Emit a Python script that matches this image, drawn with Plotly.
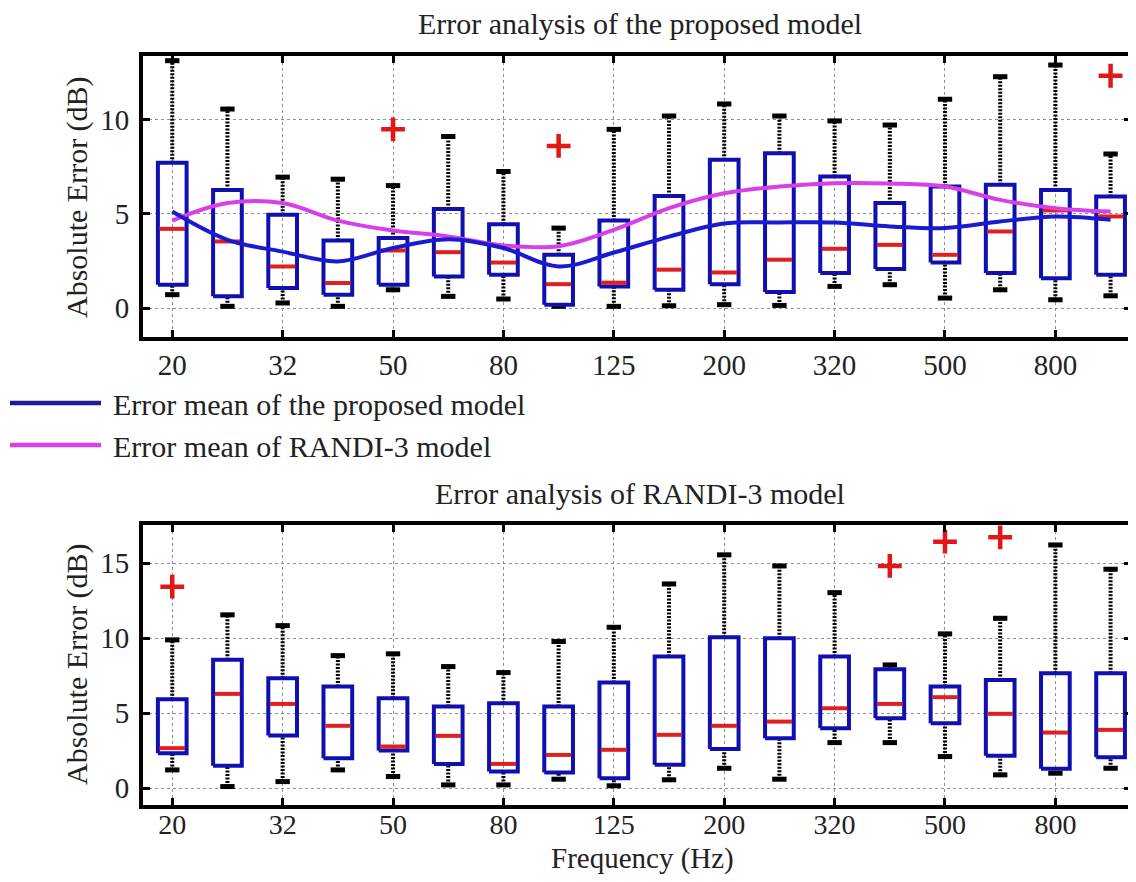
import plotly.graph_objects as go

# ---------------- data ----------------
freq_labels = ["20", "25", "32", "40", "50", "63", "80", "100", "125", "160",
               "200", "250", "320", "400", "500", "630", "800", "1000"]
tick_labels = ["20", "32", "50", "80", "125", "200", "320", "500", "800"]

# Proposed model error statistics (dB)
prop_lower = [0.71, 0.09, 0.27, 0.09, 0.97, 0.62, 0.48, 0.09, 0.09, 0.12, 0.18, 0.14, 1.15, 1.24, 0.53, 0.97, 0.44, 0.65]
prop_q1 = [1.24, 0.62, 1.06, 0.71, 1.24, 1.68, 1.77, 0.18, 1.15, 0.97, 1.27, 0.85, 1.86, 2.07, 2.42, 1.86, 1.59, 1.77]
prop_median = [4.21, 3.54, 2.21, 1.33, 3.06, 2.97, 2.42, 1.27, 1.35, 2.04, 1.89, 2.57, 3.15, 3.36, 2.83, 4.07, 5.19, 4.87]
prop_q3 = [7.73, 6.28, 4.96, 3.59, 3.72, 5.26, 4.46, 2.83, 4.66, 5.96, 7.88, 8.23, 6.99, 5.58, 6.46, 6.55, 6.28, 5.93]
prop_upper = [13.15, 10.58, 6.96, 6.85, 6.51, 9.12, 7.26, 4.25, 9.5, 10.21, 10.85, 10.21, 9.95, 9.73, 11.1, 12.3, 12.92, 8.19]
prop_outlier_freq = ["50", "100", "1000"]
prop_outlier_val = [9.5, 8.62, 12.35]

# Error means
prop_mean = [5.13, 3.63, 3.0, 2.48, 3.19, 3.66, 3.19, 2.21, 2.95, 3.8, 4.5, 4.55, 4.55, 4.34, 4.25, 4.6, 4.87, 4.69]
randi_mean = [4.65, 5.58, 5.58, 4.65, 4.12, 3.81, 3.33, 3.29, 4.16, 5.31, 6.1, 6.46, 6.64, 6.62, 6.46, 5.75, 5.31, 5.13]

# RANDI-3 model error statistics (dB)
randi_lower = [1.22, 0.11, 0.44, 1.22, 0.78, 0.22, 0.22, 0.6, 0.16, 0.56, 1.33, 0.6, 3.04, 3.04, 2.11, 0.89, 1.0, 1.33]
randi_q1 = [2.33, 1.49, 3.51, 2.0, 2.51, 1.62, 1.11, 1.04, 0.67, 1.56, 2.62, 3.33, 4.0, 4.67, 4.33, 2.16, 1.3, 2.07]
randi_median = [2.67, 6.29, 5.62, 4.16, 2.78, 3.49, 1.62, 2.22, 2.56, 3.56, 4.16, 4.44, 5.33, 5.62, 6.07, 4.96, 3.71, 3.89]
randi_q3 = [5.93, 8.56, 7.33, 6.78, 6.0, 5.44, 5.67, 5.44, 7.04, 8.78, 10.07, 10.0, 8.78, 7.93, 6.78, 7.22, 7.67, 7.67]
randi_upper = [9.89, 11.56, 10.84, 8.84, 8.96, 8.11, 7.71, 9.78, 10.73, 13.62, 15.56, 14.82, 13.04, 8.22, 10.29, 11.33, 16.22, 14.6]
randi_outlier_freq = ["20", "400", "500", "630"]
randi_outlier_val = [13.44, 14.82, 16.44, 16.73]

# ---------------- styling ----------------
FONT = "Liberation Serif, Times New Roman, serif"
BOX_C = "#1010b0"
MED_C = "#e02020"
OUT_C = "#e01818"
BLUE_LINE = "#1a1ad0"
MAG_LINE = "#d83fe8"
HALF_W = 0.26
CAP_W = 0.13

# The page body has a default 8px margin; size the figure so it fits the window.
OFF = 8
W, H = 1136 - OFF, 882 - 2 * OFF


def px_x(p):
    return (p - OFF) / W


def px_y(p):
    return 1 - (p - OFF) / H


pos = list(range(len(freq_labels)))
tick_pos = [freq_labels.index(t) for t in tick_labels]

fig = go.Figure()


def add_boxes(lower, q1, med, q3, upper, out_f, out_v, xa, ya):
    wx, wy, cx, cy, bx, by, mx, my = [], [], [], [], [], [], [], []
    for i, (lo, a, m, b, hi) in enumerate(zip(lower, q1, med, q3, upper)):
        p = pos[i]
        wx += [p, p, None, p, p, None]
        wy += [b, hi, None, lo, a, None]
        cx += [p - CAP_W, p + CAP_W, None, p - CAP_W, p + CAP_W, None]
        cy += [hi, hi, None, lo, lo, None]
        bx += [p - HALF_W, p + HALF_W, p + HALF_W, p - HALF_W, p - HALF_W, None]
        by += [a, a, b, b, a, None]
        mx += [p - HALF_W + 0.03, p + HALF_W - 0.03, None]
        my += [m, m, None]
    common = dict(xaxis=xa, yaxis=ya, showlegend=False, hoverinfo="skip", mode="lines")
    fig.add_trace(go.Scatter(x=wx, y=wy, line=dict(color="black", width=4, dash="2px,1.5px"), **common))
    fig.add_trace(go.Scatter(x=cx, y=cy, line=dict(color="black", width=5), **common))
    fig.add_trace(go.Scatter(x=bx, y=by, line=dict(color=BOX_C, width=4), **common))
    fig.add_trace(go.Scatter(x=mx, y=my, line=dict(color=MED_C, width=4), **common))
    fig.add_trace(go.Scatter(
        x=[freq_labels.index(f) for f in out_f], y=out_v, mode="markers",
        marker=dict(symbol="cross-thin", size=17, line=dict(width=4.5, color=OUT_C)),
        xaxis=xa, yaxis=ya, showlegend=False, hoverinfo="skip"))


add_boxes(prop_lower, prop_q1, prop_median, prop_q3, prop_upper,
          prop_outlier_freq, prop_outlier_val, "x", "y")
fig.add_trace(go.Scatter(x=pos, y=randi_mean, mode="lines",
                         line=dict(color=MAG_LINE, width=4, shape="spline", smoothing=1.0),
                         xaxis="x", yaxis="y", showlegend=False, name="Error mean of RANDI-3 model"))
fig.add_trace(go.Scatter(x=pos, y=prop_mean, mode="lines",
                         line=dict(color=BLUE_LINE, width=4, shape="spline", smoothing=1.0),
                         xaxis="x", yaxis="y", showlegend=False, name="Error mean of the proposed model"))

add_boxes(randi_lower, randi_q1, randi_median, randi_q3, randi_upper,
          randi_outlier_freq, randi_outlier_val, "x2", "y2")

xdom = [px_x(143), px_x(1131)]
axis_common = dict(
    showline=True, linewidth=4, linecolor="black", mirror="allticks",
    ticks="inside", ticklen=7, tickwidth=3, tickcolor="black",
    showgrid=True, gridcolor="#8f8f8f", gridwidth=1.2, griddash="dot",
    zeroline=False,
)
tick_font = dict(family=FONT, size=29, color="#222")
fig.update_layout(
    width=W, height=H, margin=dict(l=0, r=0, t=0, b=0),
    paper_bgcolor="white", plot_bgcolor="white", showlegend=False,
    xaxis=dict(domain=xdom, range=[-0.53, 17.37], tickvals=tick_pos, ticktext=tick_labels,
               anchor="y", ticklabelstandoff=-1, tickfont=tick_font, **axis_common),
    yaxis=dict(domain=[px_y(337), px_y(56)], range=[-1.54, 13.4], tickvals=[0, 5, 10],
               anchor="x", ticklabelstandoff=4, tickfont=tick_font, **axis_common),
    xaxis2=dict(domain=xdom, range=[-0.53, 17.37], tickvals=tick_pos, ticktext=tick_labels,
                anchor="y2", ticklabelstandoff=-9, tickfont=dict(family=FONT, size=28, color="#222"),
                **axis_common),
    yaxis2=dict(domain=[px_y(805), px_y(525)], range=[-1.12, 17.55], tickvals=[0, 5, 10, 15],
                anchor="x2", ticklabelstandoff=4, tickfont=tick_font, **axis_common),
)

tfont = dict(family=FONT, size=30, color="#222")
annotations = [
    dict(text="Error analysis of the proposed model", x=px_x(640), y=px_y(24), size=30),
    dict(text="Error analysis of RANDI-3 model", x=px_x(640), y=px_y(493), size=30),
    dict(text="Frequency (Hz)", x=px_x(642), y=px_y(858), size=29),
    dict(text="Absolute Error (dB)", x=px_x(77), y=px_y(197), size=30, textangle=-90),
    dict(text="Absolute Error (dB)", x=px_x(77), y=px_y(664), size=30, textangle=-90),
]
for a in annotations:
    size = a.pop("size")
    fig.add_annotation(xref="paper", yref="paper", showarrow=False,
                       xanchor="center", yanchor="middle",
                       font=dict(family=FONT, size=size, color="#222"), **a)

# manual legend (between the panels)
legend_items = [("Error mean of the proposed model", "#1c1c98", 403),
                ("Error mean of RANDI-3 model", MAG_LINE, 445)]
for label, color, yy in legend_items:
    fig.add_shape(type="line", xref="paper", yref="paper",
                  x0=px_x(10), x1=px_x(101), y0=px_y(yy), y1=px_y(yy),
                  line=dict(color=color, width=4.5))
    fig.add_annotation(xref="paper", yref="paper", showarrow=False,
                       x=px_x(111), y=px_y(yy + 1), xanchor="left", yanchor="middle",
                       text=label, font=tfont)

fig.write_html("out.html")
